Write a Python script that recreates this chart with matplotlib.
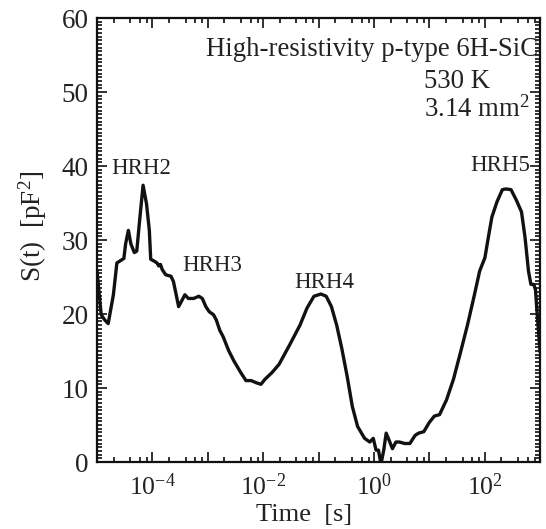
import numpy as np
import matplotlib
matplotlib.use("Agg")
import matplotlib.pyplot as plt
from matplotlib.ticker import LogLocator, FuncFormatter, MultipleLocator, NullFormatter

plt.rcParams['font.family'] = ['Liberation Serif', 'DejaVu Serif']
plt.rcParams['mathtext.fontset'] = 'custom'
plt.rcParams['mathtext.rm'] = 'Liberation Serif'
plt.rcParams['mathtext.it'] = 'Liberation Serif:italic'
plt.rcParams['mathtext.bf'] = 'Liberation Serif:bold'

# log10 of time [s]
log_time = [-5.000, -4.924, -4.861, -4.798, -4.704, -4.641, -4.578, -4.515, -4.483, -4.433,
            -4.389, -4.326, -4.282, -4.231, -4.168, -4.106, -4.055, -4.030, -3.980, -3.917,
            -3.885, -3.854, -3.822, -3.759, -3.665, -3.620, -3.570, -3.526, -3.476, -3.413,
            -3.350, -3.255, -3.161, -3.098, -3.035, -2.972, -2.896, -2.846, -2.783, -2.720,
            -2.625, -2.531, -2.405, -2.310, -2.216, -2.121, -2.039, -1.964, -1.838, -1.712,
            -1.523, -1.334, -1.208, -1.082, -0.956, -0.861, -0.767, -0.672, -0.578, -0.483,
            -0.389, -0.294, -0.168, -0.074, -0.011, 0.039, 0.083, 0.128, 0.178, 0.222,
            0.272, 0.335, 0.398, 0.461, 0.556, 0.650, 0.745, 0.808, 0.902, 0.997,
            1.091, 1.186, 1.312, 1.438, 1.564, 1.690, 1.816, 1.910, 2.005, 2.068,
            2.131, 2.225, 2.320, 2.383, 2.477, 2.572, 2.666, 2.729, 2.792, 2.836,
            2.887, 2.918, 2.950, 3.000]

# S(t) [pF^2]
signal = [25.8, 19.9, 19.2, 18.7, 22.6, 26.9, 27.2, 27.5, 29.5, 31.3,
          29.5, 28.3, 28.5, 32.6, 37.4, 34.9, 31.3, 27.4, 27.2, 26.9,
          26.5, 26.7, 26.0, 25.3, 25.1, 24.4, 22.6, 21.0, 21.7, 22.6,
          22.1, 22.1, 22.4, 22.1, 21.0, 20.3, 19.9, 19.2, 17.8, 16.9,
          15.1, 13.7, 12.1, 11.0, 11.0, 10.7, 10.5, 11.2, 12.1, 13.2,
          15.8, 18.5, 20.8, 22.4, 22.7, 22.4, 21.0, 18.5, 15.3, 11.6,
          7.5, 4.8, 3.2, 2.7, 3.2, 1.6, 1.6, -0.3, 1.6, 3.9,
          3.0, 1.8, 2.7, 2.7, 2.5, 2.5, 3.6, 3.9, 4.1, 5.3,
          6.2, 6.4, 8.4, 11.2, 14.8, 18.5, 22.6, 25.8, 27.6, 30.4,
          33.1, 35.2, 36.8, 36.9, 36.8, 35.4, 33.8, 30.4, 25.8, 24.0,
          24.0, 23.3, 19.9, 15.0]

peak_labels = ["HRH2", "HRH3", "HRH4", "HRH5"]
peak_log_x = [-4.20, -2.91, -0.89, 2.29]
peak_y = [39.7, 26.5, 24.2, 40.1]

fig = plt.figure(figsize=(5.46, 5.29), dpi=100)
ax = fig.add_axes([97/546, 1-462/529, (540-97)/546, (462-18)/529])

t = 10.0 ** np.array(log_time)
ax.plot(t, signal, color='#111111', lw=2.4, solid_joinstyle='round')

ax.set_xscale('log')
ax.set_xlim(1e-5, 1e3)
ax.set_ylim(0, 60)

ax.xaxis.set_major_locator(LogLocator(base=10, numticks=30))
ax.xaxis.set_minor_locator(LogLocator(base=10, subs=[2, 4, 6, 8], numticks=30))
ax.xaxis.set_minor_formatter(NullFormatter())

def fmt(v, pos):
    e = int(round(np.log10(v)))
    if e % 2 == 0:
        return r'$\mathdefault{10^{%d}}$' % e
    return ''
ax.xaxis.set_major_formatter(FuncFormatter(fmt))

ax.yaxis.set_major_locator(MultipleLocator(10))
ax.yaxis.set_minor_locator(MultipleLocator(0.5))

ax.tick_params(which='both', direction='in', top=True, right=True, width=1.3, colors='#222222')
ax.tick_params(which='major', length=7)
ax.tick_params(which='minor', length=3.5)
ax.tick_params(axis='x', which='major', pad=8, labelsize=18.5)
ax.tick_params(axis='y', which='major', pad=6, labelsize=19.5)
for s in ax.spines.values():
    s.set_linewidth(1.6)
    s.set_color('#111111')

ax.set_xlabel('Time  [s]', fontsize=19, color='#222222')
ax.set_ylabel(r'S(t)  [pF$^2$]', fontsize=19.5, color='#222222')
ax.xaxis.set_label_coords(0.468, -0.095)
ax.yaxis.set_label_coords(-0.108, 0.53)

for lab, lx, ly in zip(peak_labels, peak_log_x, peak_y):
    ax.text(10 ** lx, ly, lab, ha='center', va='center', fontsize=16.5, color='#222222')

ax.text(0.995, 0.93, 'High-resistivity p-type 6H-SiC', transform=ax.transAxes,
        ha='right', va='center', fontsize=19.3, color='#222222')
ax.text(10 ** 0.902, 51.4, '530 K', ha='left', va='center', fontsize=19.3, color='#222222')
ax.text(10 ** 0.902, 47.7, r'3.14 mm$^2$', ha='left', va='center', fontsize=19.3, color='#222222')

fig.savefig('out.png', dpi=100)
